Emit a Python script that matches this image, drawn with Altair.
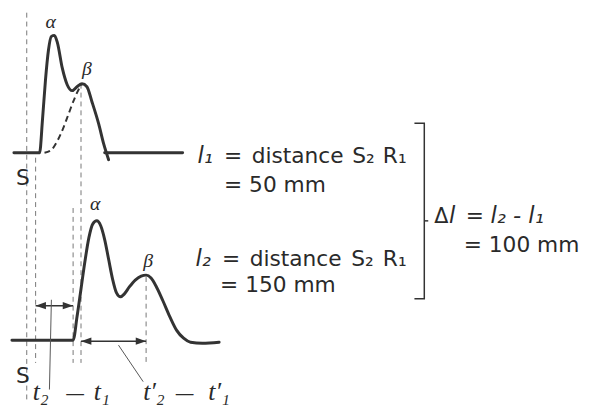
import altair as alt
import pandas as pd

# ---- traces (diagram units = picture pixels, y downward) ----
top_x = [14, 40, 43, 46, 49, 52, 55, 58, 63, 68, 73, 78, 83, 88, 93, 100, 105, 110]
top_y = [152, 152, 118, 78, 48, 34, 33, 40, 66, 83, 89, 85, 82, 85, 100, 123, 143, 159]
top_base_x = [106, 185]
top_base_y = [152, 152]
beta_x = [45, 52, 58, 64, 70, 75, 80, 83]
beta_y = [152, 149, 140, 127, 111, 98, 87, 82]
low_x = [12, 74, 78, 82, 86, 90, 94, 98, 102, 106, 110, 114, 118, 122, 126, 131, 137, 143, 148,
         153, 158, 165, 172, 179, 186, 193, 205, 222]
low_y = [342, 342, 318, 290, 262, 238, 224, 221, 226, 240, 260, 280, 294, 298, 295, 288, 281, 277, 276,
         279, 287, 302, 318, 332, 340, 344, 345, 344]

# dashed verticals: x, top, bottom
vx = [27, 36, 74, 82, 148]
vy1 = [10, 157, 208, 82, 278]
vy2 = [405, 365, 365, 365, 365]

# double arrows: y, x_left, x_right
arr_y = [307, 343]
arr_x1 = [36, 82]
arr_x2 = [74, 148]

# leader lines
lead_x1 = [52, 120]
lead_y1 = [301, 347]
lead_x2 = [50, 145]
lead_y2 = [392, 384]

# bracket and its small middle tick
br_x = [420, 430, 430, 420]
br_y = [122, 122, 300, 300]
tick_x = [430, 434]
tick_y = [221, 221]

# labels
lab_text = ["S", "S", "α", "β", "α", "β",
            "t₂", "—", "t₁", "t′₂", "—", "t′₁",
            "l₁", "=", "distance", "S₂", "R₁", "= 50 mm",
            "l₂", "=", "distance", "S₂", "R₁", "= 150 mm",
            "Δ", "l", "=", "l₂ - l₁", "= 100 mm"]
lab_x = [16, 16, 46, 83, 91, 145,
         33, 66, 95, 145, 177, 211,
         200, 227, 255, 357, 388, 227,
         198, 225, 253, 356, 388, 223,
         440, 455, 472, 497, 470]
lab_y = [185, 385, 26, 73, 210, 268,
         403, 403, 403, 403, 403, 403,
         162, 162, 162, 162, 162, 192,
         267, 267, 267, 267, 267, 293,
         223, 223, 223, 223, 253]
lab_size = [22, 22, 20, 20, 20, 20,
            26, 20, 26, 26, 20, 26,
            23, 22, 22, 22, 22, 22,
            23, 22, 22, 22, 22, 22,
            21, 23, 22, 23, 22]
lab_style = ["sans", "sans", "serifi", "serifi", "serifi", "serifi",
             "serifi", "sans", "serifi", "serifi", "sans", "serifi",
             "sansi", "sans", "sans", "sans", "sans", "sans",
             "sansi", "sans", "sans", "sans", "sans", "sans",
             "sans", "sansi", "sans", "sansi", "sans"]

INK = "#333333"
X = alt.Scale(domain=[8, 600])
Y = alt.Scale(domain=[8, 412], reverse=True)

curves = pd.DataFrame({
    "x": top_x + top_base_x + low_x,
    "y": top_y + top_base_y + low_y,
    "s": ["top"] * len(top_x) + ["base"] * len(top_base_x) + ["low"] * len(low_x),
})
curves["i"] = range(len(curves))
beta_df = pd.DataFrame({"x": beta_x, "y": beta_y})
vert_df = pd.DataFrame({"x": vx, "y1": vy1, "y2": vy2})
arr_df = pd.DataFrame({"y": arr_y, "x1": arr_x1, "x2": arr_x2})
lead_df = pd.DataFrame({"x1": lead_x1, "y1": lead_y1, "x2": lead_x2, "y2": lead_y2})
br_df = pd.DataFrame({"x": br_x + tick_x, "y": br_y + tick_y,
                      "s": ["b"] * len(br_x) + ["t"] * len(tick_x)})
br_df["i"] = range(len(br_df))
lab_df = pd.DataFrame({"t": lab_text, "x": lab_x, "y": lab_y, "size": lab_size, "style": lab_style})

solid = alt.Chart(curves).mark_line(interpolate="monotone", color=INK, strokeWidth=3,
                                    strokeCap="round").encode(
    x=alt.X("x:Q", scale=X, axis=None), y=alt.Y("y:Q", scale=Y, axis=None),
    detail="s:N", order="i:Q")
dashed_beta = alt.Chart(beta_df).mark_line(interpolate="monotone", color=INK, strokeWidth=2,
                                           strokeDash=[6, 4]).encode(
    x=alt.X("x:Q", scale=X, axis=None), y=alt.Y("y:Q", scale=Y, axis=None))
verts = alt.Chart(vert_df).mark_rule(color="#777777", strokeWidth=1, strokeDash=[5, 4]).encode(
    x=alt.X("x:Q", scale=X, axis=None), y=alt.Y("y1:Q", scale=Y, axis=None), y2="y2:Q")
arrows = alt.Chart(arr_df).mark_rule(color=INK, strokeWidth=1.5).encode(
    x=alt.X("x1:Q", scale=X, axis=None), x2="x2:Q", y=alt.Y("y:Q", scale=Y, axis=None))
head_l = alt.Chart(arr_df).mark_point(shape="M0,0L2,-0.7L2,0.7Z", filled=True, opacity=1,
                                      color=INK, size=110).encode(
    x=alt.X("x1:Q", scale=X, axis=None), y=alt.Y("y:Q", scale=Y, axis=None))
head_r = alt.Chart(arr_df).mark_point(shape="M0,0L-2,-0.7L-2,0.7Z", filled=True, opacity=1,
                                      color=INK, size=110).encode(
    x=alt.X("x2:Q", scale=X, axis=None), y=alt.Y("y:Q", scale=Y, axis=None))
leads = alt.Chart(lead_df).mark_rule(color="#555555", strokeWidth=1).encode(
    x=alt.X("x1:Q", scale=X, axis=None), y=alt.Y("y1:Q", scale=Y, axis=None),
    x2="x2:Q", y2="y2:Q")
bracket = alt.Chart(br_df).mark_line(color=INK, strokeWidth=1.5).encode(
    x=alt.X("x:Q", scale=X, axis=None), y=alt.Y("y:Q", scale=Y, axis=None),
    detail="s:N", order="i:Q")

def text_layer(style, font, fstyle):
    return alt.Chart(lab_df).transform_filter(alt.datum.style == style).mark_text(
        align="left", baseline="alphabetic", font=font, fontStyle=fstyle, color="#2a2a2a").encode(
        x=alt.X("x:Q", scale=X, axis=None), y=alt.Y("y:Q", scale=Y, axis=None),
        text="t:N", size=alt.Size("size:Q", scale=None))

texts = (text_layer("sans", "DejaVu Sans", "normal")
         + text_layer("sansi", "DejaVu Sans", "italic")
         + text_layer("serifi", "Liberation Serif", "italic"))

chart = alt.layer(verts, dashed_beta, solid, arrows, head_l, head_r, leads, bracket, texts).properties(
    width=592, height=404, padding=0, autosize=alt.AutoSizeParams(type="none"),
    background="white"
).configure_view(stroke=None)

chart.save("out.html", embed_options={"renderer": "svg", "actions": False})
